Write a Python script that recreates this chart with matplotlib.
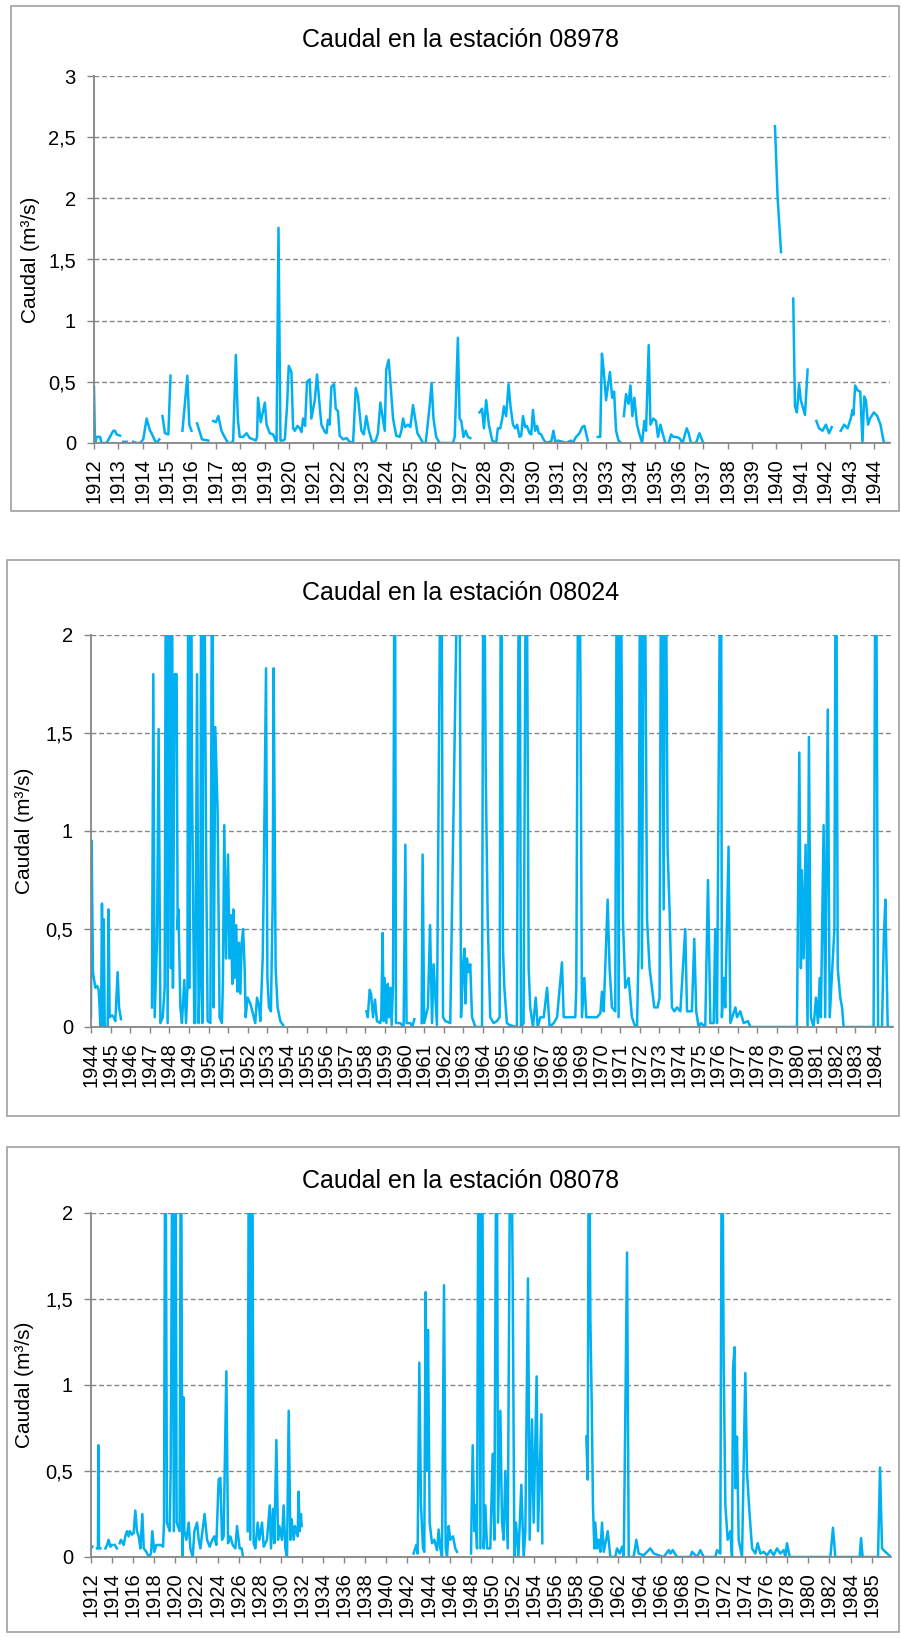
import numpy as np
import matplotlib.pyplot as plt
from matplotlib.patches import Rectangle

# ---- data: t = years since first tick, q = caudal (m3/s); None = sin dato ----
st1_start = 1912
st1_t = [0, 0.04, 0.11, 0.25, 0.31, 0.52, 0.79, 0.86, 0.93, 1.07, None,
         1.20, 1.34, None,
         1.61, 1.75, 1.89, 2.02, 2.16, 2.30, 2.36, 2.50, 2.57, 2.68, None,
         2.81, 2.91, 3.05, 3.14, None,
         3.63, 3.83, 3.91, 4.0, None,
         4.23, 4.43, 4.69, None,
         4.89, 5.0, 5.10, 5.23, 5.33, 5.44, 5.51, 5.64, 5.71, 5.82, 5.90, 5.98, 6.12, 6.26, 6.39,
         6.53, 6.64, 6.69, 6.73, 6.84, 7.01, 7.08, 7.21, 7.35, 7.49, 7.57, 7.65, 7.76, 7.83, 7.92,
         7.99, 8.10, 8.17, 8.24, 8.35, 8.44, 8.51, 8.58, 8.66, 8.74, 8.85, 8.92, 9.06, 9.15, 9.26,
         9.33, 9.47, 9.54, 9.60, 9.67, 9.74, 9.85, 9.92, 10.01, 10.08, 10.22, 10.36, 10.49, 10.63,
         10.74, 10.83, 10.97, 11.07, 11.17, 11.28, 11.42, 11.56, 11.65, 11.75, 11.93, 11.99, 12.09,
         12.16, 12.27, 12.40, 12.54, 12.61, 12.68, 12.76, 12.88, 12.98, 13.09, 13.16, 13.27, 13.33,
         13.50, 13.61, 13.77, 13.85, 13.93, 14.04, 14.18, 14.59, 14.73, 14.80, 14.93, 15.0, 15.07,
         15.16, 15.25, 15.34, 15.44, None,
         15.82, 15.92, 16.0, 16.09, 16.20, 16.34, 16.50, 16.57, 16.67, 16.75, 16.82, 16.91, 17.01,
         17.09, 17.19, 17.28, 17.36, 17.46, 17.53, 17.60, 17.69, 17.76, 17.87, 17.94, 18.01, 18.10,
         18.18, 18.25, 18.35, 18.44, 18.55, 18.69, 18.76, 18.85, 18.93, 19.03, 19.23, 19.37, 19.57,
         19.64, 19.78, 19.92, 20.03, 20.12, 20.19, 20.26, None,
         20.67, 20.77, 20.84, 20.92, 21.01, 21.09, 21.17, 21.26, 21.34, 21.42, 21.52, 21.63, None,
         21.74, 21.83, 21.93, 22.01, 22.09, 22.17, 22.28, 22.38, 22.49, 22.58, 22.65, 22.76, 22.83,
         22.95, 23.06, 23.14, 23.24, 23.33, 23.44, 23.58, 23.68, 23.77, 23.88, 24.02, 24.15, 24.32,
         24.40, 24.49, 24.70, 24.84, 24.90, 25.0, None,
         27.94, 28.05, 28.19, None,
         28.69, 28.76, 28.84, 28.93, 29.0, 29.07, 29.17, 29.28, None,
         29.64, 29.75, 29.89, 30.03, 30.16, 30.27, None,
         30.64, 30.78, 30.92, 31.05, 31.12, 31.16, 31.23, 31.33, 31.44, 31.53, 31.60, 31.67, 31.76,
         31.84, 32.0, 32.14, 32.27, 32.41, 32.62]
st1_q = [0.46, 0, 0.05, 0.05, 0, 0, 0.1, 0.1, 0.07, 0.06, None,
         0.01, 0.01, None,
         0.01, 0, 0, 0.03, 0.2, 0.1, 0.08, 0.02, 0, 0.03, None,
         0.22, 0.08, 0.07, 0.55, None,
         0.1, 0.55, 0.15, 0.1, None,
         0.16, 0.03, 0.02, None,
         0.18, 0.17, 0.22, 0.1, 0.06, 0.02, 0, 0, 0.02, 0.72, 0.2, 0.05, 0.05, 0.08, 0.04,
         0.03, 0.02, 0.05, 0.37, 0.17, 0.33, 0.15, 0.08, 0.07, 0, 1.76, 0.02, 0.02, 0.03, 0.3,
         0.63, 0.58, 0.12, 0.1, 0.14, 0.12, 0.09, 0.2, 0.14, 0.5, 0.52, 0.2, 0.35, 0.56, 0.3,
         0.15, 0.09, 0.08, 0.19, 0.15, 0.46, 0.48, 0.28, 0.26, 0.06, 0.03, 0.04, 0.01, 0,
         0.45, 0.38, 0.1, 0.07, 0.22, 0.1, 0, 0.02, 0.08, 0.33, 0.1, 0.6, 0.68,
         0.5, 0.2, 0.06, 0.05, 0.1, 0.2, 0.13, 0.15, 0.13, 0.31, 0.22, 0.08, 0.06,
         0, 0, 0.3, 0.49, 0.2, 0.05, 0, 0, 0, 0.05, 0.86, 0.2, 0.18,
         0.05, 0.1, 0.05, 0.04, None,
         0.25, 0.28, 0.12, 0.35, 0.15, 0.02, 0, 0.12, 0.12, 0.2, 0.3, 0.22, 0.48,
         0.3, 0.15, 0.12, 0.15, 0.05, 0.06, 0.22, 0.13, 0.14, 0.08, 0.07, 0.27, 0.1,
         0.14, 0.08, 0.07, 0.03, 0, 0.01, 0.01, 0.1, 0.01, 0.02, 0.01, 0, 0.02,
         0, 0.05, 0.08, 0.13, 0.14, 0.08, 0.02, None,
         0.05, 0.05, 0.73, 0.58, 0.35, 0.47, 0.58, 0.37, 0.42, 0.1, 0.02, 0, None,
         0.22, 0.4, 0.32, 0.47, 0.22, 0.37, 0.15, 0.07, 0, 0.18, 0.1, 0.8, 0.15,
         0.2, 0.18, 0.05, 0.15, 0.08, 0, 0, 0.07, 0.05, 0.05, 0.04, 0, 0.12,
         0.08, 0, 0, 0.08, 0.05, 0, None,
         2.59, 2.0, 1.56, None,
         1.18, 0.3, 0.25, 0.48, 0.35, 0.3, 0.23, 0.6, None,
         0.18, 0.12, 0.1, 0.15, 0.08, 0.13, None,
         0.1, 0.15, 0.12, 0.2, 0.27, 0.23, 0.47, 0.43, 0.42, 0, 0.38, 0.35, 0.15,
         0.2, 0.25, 0.22, 0.15, 0, 0]
st1_labels = [str(y) for y in range(1912, 1945)]

st2_start = 1944
st2_t = [0, 0.03, 0.1, 0.22, 0.31, 0.39, 0.44, 0.48, 0.51, 0.56, 0.61, 0.65, 0.70, 0.85, 0.90,
         0.95, 1.07, 1.16, 1.24, 1.36, 1.43, 1.53, None,
         3.11, 3.18, 3.25, 3.37, 3.45, 3.54, 3.66, 3.76, 3.83, 3.91, 4.01, 4.08, 4.13, 4.18, 4.27,
         4.37, 4.42, 4.46, 4.56, 4.64, 4.76, 4.85, 4.92, 4.97, 5.03, 5.10, 5.15, 5.27, 5.32, 5.41,
         5.49, 5.58, 5.63, 5.68, 5.75, 5.87, 5.95, 6.09, 6.19, 6.26, 6.34, 6.46, 6.56, 6.68, 6.73,
         6.80, 6.89, 6.99, 7.07, 7.14, 7.21, 7.26, 7.33, 7.41, 7.48, 7.55, 7.62, 7.69, 7.76, 7.84,
         7.89, 7.99, 8.13, 8.23, 8.38, 8.47, 8.57, 8.64, 8.76, 8.81, 8.93, 9.0, 9.08, 9.18, 9.27,
         9.32, 9.42, 9.52, 9.66, 9.80, None,
         14.05, 14.12, 14.22, 14.29, 14.39, 14.49, 14.59, 14.76, 14.81, 14.88, 14.93, 14.98, 15.07,
         15.14, 15.20, 15.27, 15.34, 15.41, 15.50, 15.56, 15.78, 15.95, 16.04, 16.10, 16.29, 16.39,
         16.50, None,
         16.87, 16.92, 17.0, 17.19, 17.30, 17.40, 17.48, 17.65, 17.87, 17.96, 18.08, 18.33, 18.79,
         18.88, 18.98, 19.05, 19.10, 19.18, 19.27, 19.35, 19.44, 19.61, 19.95, 20.03, 20.14, 20.24,
         20.37, 20.54, 20.71, 20.85, 20.92, 21.02, 21.09, 21.22, 21.36, 21.73, 21.85, 21.94, 22.07,
         22.21, 22.33, 22.41, 22.55, 22.69, 22.79, 22.93, 23.10, 23.27, 23.40, 23.61, 23.78, 24.03,
         24.12, 24.29, 24.71, 24.76, 24.88, 24.97, 25.05, 25.17, 25.27, 25.82, 25.99, 26.07, 26.16,
         26.36, 26.46, 26.58, 26.75, 26.84, 26.92, 27.01, 27.14, 27.26, 27.43, 27.60, 27.77, 27.86,
         27.94, 28.03, 28.11, 28.23, 28.37, 28.50, 28.62, 28.74, 28.91, 29.01, 29.10, 29.22, 29.30,
         29.42, 29.52, 29.64, 29.76, 29.90, 30.07, 30.32, 30.41, 30.66, 30.78, 30.88, 31.0, 31.12,
         31.34, 31.48, 31.60, 31.77, 31.85, 31.94, 32.14, 32.19, 32.28, 32.36, 32.53, 32.62, 32.88,
         32.96, 33.13, 33.30, 33.52, 33.64, 36.02, 36.05, 36.14, 36.22, 36.27, 36.36, 36.46, 36.56,
         36.63, 36.73, 36.87, 36.99, 37.09, 37.18, 37.24, 37.38, 37.46, 37.59, 37.69, 37.93, 38.01,
         38.10, 38.23, 38.32, 38.40, 39.93, 40.04, 40.16, 40.36, 40.45, 40.53, 40.65, 40.95]
st2_q = [0.05, 0.95, 0.28, 0.2, 0.21, 0.19, 0.1, 0, 0, 0.63, 0, 0.55, 0, 0, 0.6,
         0.05, 0.06, 0.05, 0.03, 0.28, 0.1, 0.04, None,
         0.1, 1.8, 0.05, 0.45, 1.52, 0.02, 0.05, 0.2, 3, 0.02, 3, 0.3, 3, 0.2, 1.8,
         1.8, 0.5, 0.6, 0.1, 0.02, 0.24, 0.02, 0.2, 3, 0.2, 3, 1.3, 0.02, 0.02, 1.8,
         0.02, 0.3, 3, 0.02, 3, 0.95, 0.03, 0.02, 3, 0.1, 1.53, 1.1, 0.05, 0.02, 0.23,
         1.03, 0.35, 0.88, 0.35, 0.57, 0.22, 0.6, 0.25, 0.52, 0.18, 0.43, 0.17, 0.43, 0.5, 0.3,
         0.05, 0.15, 0.12, 0.08, 0.02, 0.15, 0.11, 0.03, 0.35, 0.7, 1.83, 0.25, 0.1, 0.08, 0.65,
         1.83, 0.3, 0.1, 0.03, 0.01, None,
         0.08, 0.05, 0.19, 0.17, 0.05, 0.14, 0.03, 0.02, 0.05, 0.48, 0.03, 0.25, 0.02,
         0.22, 0.05, 0.2, 0.01, 0.22, 3, 0.02, 0.02, 0, 0.93, 0.02, 0.02, 0,
         0.04, None,
         0.02, 0.88, 0.02, 0.1, 0.52, 0.02, 0.32, 0.01, 3, 0.05, 0.03, 0.02, 3,
         0.05, 0.3, 0.4, 0.12, 0.35, 0.28, 0.32, 0.05, 0, 0, 3, 1.3, 0.55,
         0.05, 0.02, 0.03, 0.05, 3, 0.4, 0.2, 0.02, 0.01, 0, 3, 0, 0.02,
         3, 0.3, 0.1, 0, 0.15, 0, 0.05, 0.05, 0.2, 0, 0.02, 0.05, 0.33,
         0.05, 0.05, 0.05, 0.2, 3, 1.8, 0.05, 0.25, 0.05, 0.05, 0.07, 0.18, 0.08,
         0.65, 0.3, 0.1, 0.08, 3, 0.05, 3, 0.55, 0.2, 0.25, 0.05, 0, 0,
         0.4, 3, 0.3, 3, 0.55, 0.3, 0.2, 0.1, 0.1, 0.15, 3, 0.6, 3,
         0.9, 0.6, 0.1, 0.08, 0.1, 0.08, 0.5, 0.08, 0.08, 0.45, 0.08, 0, 0.02,
         0, 0.75, 0.02, 0.02, 0.5, 0.02, 3, 0.05, 0.25, 0.1, 0.92, 0.02, 0.1,
         0.05, 0.08, 0.02, 0.03, 0, 0, 0.35, 1.4, 0.3, 0.8, 0.35, 0.93, 0,
         1.48, 0.05, 0, 0.15, 0.02, 0.25, 0.05, 1.03, 0.05, 1.62, 0.05, 0.5, 3,
         0.3, 0.15, 0.1, 0, 0, 3, 0, 0, 0.45, 0.65, 0, 0]
st2_labels = [str(y) for y in range(1944, 1985)]

st3_start = 1912
st3_t = [0, 0.13, None,
         0.57, 0.66, 0.70, 0.76, 0.88, None,
         1.36, 1.52, 1.67, 1.83, 1.99, None,
         2.24, 2.46, None,
         2.72, 2.84, 3.10, 3.25, 3.41, 3.57, 3.67, 3.89, 4.04, 4.20, 4.36, 4.52, 4.68, 4.87, 5.0,
         5.25, 5.47, 5.69, 5.81, 6.0, 6.19, 6.41, 6.64, 6.83, 6.92, 7.05, 7.20, 7.46, 7.55, 7.61,
         7.73, 7.85, 7.99, 8.12, 8.40, 8.53, 8.66, 8.75, 8.85, 9.04, 9.26, 9.42, 9.64, 9.80, 10.05,
         10.21, 10.37, 10.52, 10.77, 11.0, 11.25, 11.50, 11.69, 11.88, 12.10, 12.26, 12.42, 12.57,
         12.83, 12.99, 13.21, 13.43, 13.68, 13.84, 14.09, 14.28, 14.41, None,
         14.85, 14.98, 15.10, 15.26, 15.42, 15.58, 15.80, 15.96, 16.21, 16.37, 16.68, 16.94, 17.06,
         17.25, 17.38, 17.57, 17.73, 17.85, 18.10, 18.26, 18.42, 18.58, 18.74, 18.90, 19.02, 19.21,
         19.34, 19.59, 19.68, 19.78, 19.90, 19.97, None,
         30.58, 30.83, 30.96, 31.12, 31.28, 31.47, 31.59, 31.72, 31.85, 31.94, 32.10, 32.32, 32.54,
         32.80, 32.95, 33.11, 33.27, 33.46, 33.62, 33.75, 33.90, 34.06, 34.31, 34.53, 34.69, None,
         36.02, 36.18, 36.34, 36.43, 36.59, 36.75, 36.91, 37.06, 37.22, 37.38, 37.54, 37.85, 38.07,
         38.23, 38.45, 38.58, 38.80, 38.96, 39.12, 39.27, 39.50, 39.78, 39.97, 40.13, 40.28, 40.51,
         40.79, 41.01, 41.17, 41.42, 41.58, 41.80, 41.96, 42.24, 42.37, 42.69, 42.78, None,
         46.95, 47.08, 47.20, 47.33, 47.46, 47.58, 47.71, 47.80, 47.96, 48.12, 48.28, 48.44, 48.60,
         48.98, 49.23, 49.70, 49.86, 50.12, 50.34, 50.50, 50.81, 50.97, 51.44, 51.69, 51.91, 52.39,
         53.02, 53.34, 53.81, 54.29, 54.76, 54.92, 55.14, 55.55, 56.81, 56.97, 57.44, 57.76, 58.07,
         59.18, 59.34, 59.65, 59.81, 59.97, 60.13, 60.35, 60.60, 60.76, 60.86, 61.0, 61.08, 61.23,
         61.39, 61.71, 62.02, 62.18, 62.37, 62.66, 62.97, 63.19, 63.45, 63.76, 64.08, 64.40, 64.71,
         65.03, 65.34, 65.66, 65.82, 65.97, 66.23, 70.08, 70.33, 70.55, 72.86, 72.99, 73.14, 74.60,
         74.79, 74.98, 75.29, 75.83]
st3_q = [0.05, 0.06, None,
         0.05, 0.05, 0.65, 0.05, 0.05, None,
         0.05, 0.07, 0.1, 0.06, 0.07, None,
         0.07, 0.05, None,
         0.08, 0.1, 0.07, 0.12, 0.15, 0.12, 0.15, 0.13, 0.14, 0.27, 0.15, 0.12, 0.05, 0.25, 0.05,
         0.03, 0, 0.02, 0.15, 0.03, 0.07, 0.07, 0.07, 0.06, 0.2, 3, 0.2, 0.15, 0.5, 1.13,
         3, 0.15, 3, 0.2, 0.15, 3, 0, 0.93, 0.15, 0.1, 0.2, 0.05, 0, 0.15, 0.2,
         0.1, 0.05, 0.13, 0.25, 0.1, 0.06, 0.1, 0.12, 0.07, 0.45, 0.46, 0.1, 0.12,
         1.08, 0.08, 0.12, 0.07, 0.05, 0.18, 0.05, 0.05, 0, None,
         0.15, 3, 0.1, 3, 0.08, 0.05, 0.2, 0.1, 0.2, 0.06, 0.1, 0.3, 0.05,
         0.28, 0.08, 0.68, 0.1, 0.18, 0.1, 0.3, 0.05, 0, 0.85, 0.1, 0.22, 0.1,
         0.18, 0.12, 0.38, 0.15, 0.25, 0.18, None,
         0.02, 0.07, 0.02, 1.13, 0.3, 0.05, 0.03, 1.54, 0.5, 1.32, 0.2, 0.08, 0.1,
         0.04, 0.16, 0.05, 0, 1.58, 0.05, 0, 0.18, 0.1, 0.12, 0.05, 0.03, None,
         0.02, 0.65, 0.15, 0.3, 0.05, 3, 0.05, 3, 0.05, 0.3, 0.05, 0.05, 0.6,
         0.1, 3, 0.2, 0.85, 0.2, 0.1, 0.5, 0.05, 3, 1.62, 0, 0.2, 0,
         0.42, 0, 0.15, 1.62, 0.1, 0.8, 0.2, 1.05, 0.15, 0.83, 0.08, None,
         0.7, 0.45, 3, 1.4, 0.9, 0.3, 0.05, 0.2, 0.05, 0.1, 0.03, 0.2, 0.03,
         0.15, 0, 0, 0.05, 0.02, 0.06, 0, 1.77, 0, 0, 0.1, 0.02, 0.01,
         0.05, 0.02, 0.01, 0, 0.04, 0.02, 0.04, 0, 0, 0.03, 0, 0.04, 0,
         0, 0.04, 0.02, 3, 1.13, 0.3, 0.1, 0.15, 0, 1.1, 1.22, 0.4, 0.7,
         0.1, 0, 1.07, 0.5, 0.3, 0.05, 0.02, 0.08, 0.02, 0.03, 0.01, 0.04, 0.01,
         0.05, 0.02, 0.04, 0, 0.08, 0, 0, 0.17, 0, 0, 0.11, 0, 0,
         0.52, 0.05, 0.03, 0]
st3_labels = [str(y) for y in range(1912, 1985, 2)] + ['1985']

# ---- style ----
W, H = 901, 1638
plt.rcParams['font.family'] = ['Liberation Sans', 'DejaVu Sans']
BLUE = '#00b0f0'
GRAY = '#868686'

fig = plt.figure(figsize=(W / 100, H / 100), dpi=100)


def draw_panel(box, axpx, title, title_xy, ylab_x, t, q, xmax, ymax, labels, step):
    # outer border of the chart area
    l, top, r, b = box
    fig.patches.append(Rectangle((l / W, 1 - b / H), (r - l) / W, (b - top) / H,
                                 transform=fig.transFigure, fill=False,
                                 ec='#a0a0a0', lw=1.2))
    al, at, ar, ab = axpx
    ax = fig.add_axes([al / W, 1 - ab / H, (ar - al) / W, (ab - at) / H])
    ax.plot(np.array(t, dtype=float), np.array(q, dtype=float), color=BLUE, lw=1.8)
    ax.set_xlim(0, xmax)
    ax.set_ylim(0, ymax)

    yt = np.arange(0, ymax + 0.01, 0.5)
    ax.set_yticks(yt)
    ax.set_yticklabels([('%g' % v).replace('.', ',') for v in yt], fontsize=14.5)
    ax.set_xticks(np.arange(len(labels)) * step)
    ax.set_xticklabels(labels, rotation=90, fontsize=14.5)

    ax.yaxis.grid(True, color=GRAY, lw=1.0, ls=(0, (3.5, 2)))
    ax.set_axisbelow(True)
    for s in ['top', 'right']:
        ax.spines[s].set_visible(False)
    for s in ['left', 'bottom']:
        ax.spines[s].set_color(GRAY)
        ax.spines[s].set_linewidth(1.3)
    ax.tick_params(axis='y', length=5, width=1, color=GRAY, pad=8)
    ax.tick_params(axis='x', length=4, width=1, color=GRAY, pad=7)

    fig.text(title_xy[0] / W, 1 - title_xy[1] / H, title, fontsize=18,
             ha='center', va='center')
    fig.text(ylab_x / W, 1 - (at + ab) / 2 / H, 'Caudal (m³/s)', fontsize=15,
             rotation=90, ha='center', va='center')
    return ax


draw_panel((11, 6, 899, 511), (94, 76, 890, 443), 'Caudal en la estación 08978',
           (461, 40), 30, st1_t, st1_q, 32.66, 3, st1_labels, 1)
draw_panel((7, 560, 899, 1116), (91, 635, 893, 1027), 'Caudal en la estación 08024',
           (461, 593), 25, st2_t, st2_q, 40.92, 2, st2_labels, 1)
draw_panel((7, 1147, 899, 1632), (91, 1213, 891, 1557), 'Caudal en la estación 08078',
           (461, 1181), 25, st3_t, st3_q, 75.83, 2, st3_labels, 2)

fig.savefig('out.png', dpi=100)
